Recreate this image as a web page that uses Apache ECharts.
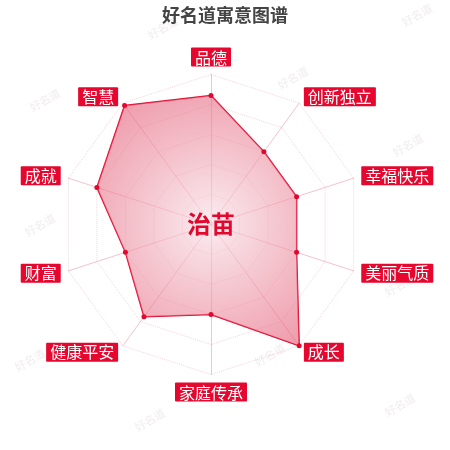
<!DOCTYPE html>
<html>
<head>
<meta charset="utf-8">
<script src="https://cdn.jsdelivr.net/npm/echarts@6/dist/echarts.min.js"></script>
<style>
  html, body { margin: 0; padding: 0; background: #fff; }
  #chart { width: 450px; height: 450px; }
</style>
</head>
<body>
<div id="chart"></div>
<script>
  // indicators, counter-clockwise from the top (echarts radar order)
  const indicatorNames = ['品德', '智慧', '成就', '财富', '健康平安', '家庭传承', '成长', '美丽气质', '幸福快乐', '创新独立']
  const scores = [86, 98, 80, 60, 76, 60, 100, 60, 60, 60]
  const maxScore = 100
  const nameText = '治苗'
  const titleText = '好名道寓意图谱'

  // faint watermark spots
  const marks = [[163, 28], [417, 15], [293, 78], [45, 100], [408, 145], [40, 225], [400, 285], [30, 360], [270, 355], [150, 420], [400, 405]]

  const chart = echarts.init(document.getElementById('chart'))

  const option = {
    backgroundColor: '#fff',
    title: {
      text: titleText,
      left: 'center',
      top: 1,
      textStyle: {
        fontFamily: 'Noto Sans CJK SC',
        fontSize: 18,
        fontWeight: 'bold',
        color: '#444',
        textShadowColor: '#f2a0b0',
        textShadowOffsetX: 1,
        textShadowOffsetY: 1,
        textShadowBlur: 0
      }
    },
    graphic: marks.map(p => ({
      type: 'text',
      x: p[0],
      y: p[1],
      rotation: Math.PI / 6,
      z: 0,
      style: {
        text: '好名道',
        fontFamily: 'Noto Sans CJK SC',
        fontSize: 11,
        fill: 'rgba(200,180,185,0.25)',
        align: 'center',
        verticalAlign: 'middle'
      }
    })).concat([{
      type: 'text',
      x: 211,
      y: 224,
      z: 100,
      style: {
        text: nameText,
        fontFamily: 'Noto Sans CJK SC',
        fontSize: 24,
        fontWeight: 'bold',
        fill: '#e3072d',
        align: 'center',
        verticalAlign: 'middle'
      }
    }]),
    radar: {
      center: [211, 224.5],
      radius: 150,
      startAngle: 90,
      splitNumber: 5,
      shape: 'polygon',
      indicator: indicatorNames.map(n => ({ name: n, max: maxScore })),
      axisName: {
        fontFamily: 'Noto Sans CJK SC',
        fontSize: 16,
        color: '#fff',
        backgroundColor: '#e5072e',
        borderRadius: 1,
        padding: [2, 4, 1, 4]
      },
      nameGap: 8,
      axisLine: {
        lineStyle: { color: 'rgba(232,120,145,0.45)', width: 1 }
      },
      splitLine: {
        lineStyle: { color: 'rgba(225,150,165,0.4)', type: 'dotted', width: 1 }
      },
      splitArea: { show: false }
    },
    series: [{
      type: 'radar',
      symbol: 'circle',
      symbolSize: 5,
      itemStyle: { color: '#e3072d' },
      lineStyle: { color: '#e3072d', width: 1.5 },
      areaStyle: {
        color: {
          type: 'radial',
          x: 0.56,
          y: 0.51,
          r: 0.7,
          colorStops: [
            { offset: 0, color: 'rgba(248,225,231,0.9)' },
            { offset: 1, color: 'rgba(228,95,120,0.85)' }
          ]
        }
      },
      data: [{ value: scores, name: nameText }]
    }]
  }

  chart.setOption(option)
</script>
</body>
</html>
